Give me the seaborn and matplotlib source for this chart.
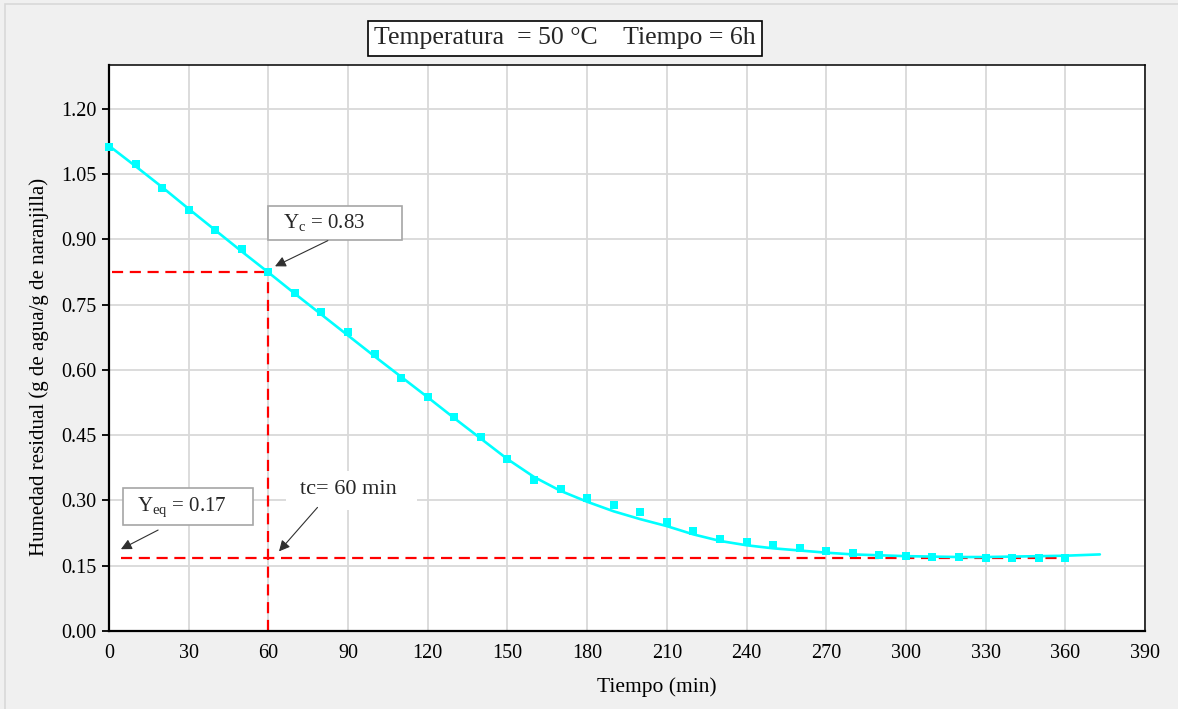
import numpy as np
import pandas as pd
import matplotlib.pyplot as plt
import seaborn as sns
from matplotlib.patches import Rectangle

# datos experimentales (cada 10 min)
tiempo = list(range(0, 361, 10))
humedad = [1.111, 1.074, 1.017, 0.968, 0.922, 0.877, 0.826, 0.776, 0.734, 0.686,
           0.636, 0.581, 0.537, 0.491, 0.445, 0.395, 0.346, 0.326, 0.305, 0.289,
           0.273, 0.250, 0.229, 0.211, 0.204, 0.197, 0.190, 0.184, 0.179, 0.174,
           0.172, 0.170, 0.170, 0.168, 0.168, 0.168, 0.168]

# curva de ajuste
tiempo_ajuste = [0, 10, 20, 30, 40, 50, 60, 70, 80, 90, 100, 110, 120, 130, 140,
                 150, 160, 170, 180, 190, 200, 210, 220, 230, 240, 250, 260, 270,
                 280, 290, 300, 310, 320, 330, 340, 350, 360, 373]
humedad_ajuste = [1.115, 1.068, 1.020, 0.970, 0.921, 0.872, 0.824, 0.775, 0.727,
                  0.679, 0.631, 0.584, 0.537, 0.489, 0.442, 0.395, 0.354, 0.322,
                  0.297, 0.275, 0.257, 0.241, 0.222, 0.207, 0.197, 0.190, 0.185,
                  0.180, 0.176, 0.174, 0.172, 0.171, 0.170, 0.170, 0.171, 0.172,
                  0.173, 0.176]

# puntos criticos
tc = 60
yc = 0.826
yeq = 0.167
yc_texto = "0.83"
yeq_texto = "0.17"
tc_texto = "60 min"

x_ticks = list(range(0, 391, 30))
y_ticks = [0.00, 0.15, 0.30, 0.45, 0.60, 0.75, 0.90, 1.05, 1.20]

sns.set_theme(style="whitegrid")
plt.rcParams['font.family'] = ['Liberation Serif', 'DejaVu Serif']
plt.rcParams['mathtext.fontset'] = 'custom'
plt.rcParams['mathtext.rm'] = 'Liberation Serif'
plt.rcParams['mathtext.it'] = 'Liberation Serif:italic'

df = pd.DataFrame({"tiempo": tiempo, "humedad": humedad})
df_ajuste = pd.DataFrame({"tiempo": tiempo_ajuste, "humedad": humedad_ajuste})

fig = plt.figure(figsize=(11.78, 7.09), dpi=100, facecolor='#f0f0f0')
ax = fig.add_axes([0.0925, 0.110, 0.8795, 0.798])
ax.set_facecolor('white')

fig.add_artist(Rectangle((5 / 1178, -0.05), 1.2, 1.05 - 4 / 709, transform=fig.transFigure,
                         fill=False, edgecolor='#d8d8d8', lw=1.2, zorder=0))

# lineas rojas de referencia
rojo = dict(color='#ff0000', lw=1.6, dashes=(5, 3), zorder=2)
ax.plot([1, tc], [yc, yc], **rojo)
ax.plot([tc, tc], [0, yc], **rojo)
ax.plot([4.5, 360], [yeq, yeq], **rojo)

sns.lineplot(data=df_ajuste, x="tiempo", y="humedad", ax=ax, color='#00ffff',
             lw=1.9, zorder=3, sort=False, clip_on=False)
sns.scatterplot(data=df, x="tiempo", y="humedad", ax=ax, marker='s', s=32,
                color='#00ffff', linewidth=0, zorder=4, clip_on=False)

ax.set_xlim(0, 390)
ax.set_ylim(0, 1.30)
ax.set_xticks(x_ticks)
ax.set_yticks(y_ticks)
ax.set_yticklabels([f"{v:.2f}" for v in y_ticks])
ax.grid(True, color='#d9d9d9', lw=1.3)
ax.set_axisbelow(True)
for s in ax.spines.values():
    s.set_color('black')
    s.set_linewidth(1.1)
ax.spines['left'].set_linewidth(1.6)
ax.spines['bottom'].set_linewidth(1.6)
ax.tick_params(axis='y', direction='out', length=5, width=1.3, color='black',
               labelsize=14.5, pad=4, left=True, colors='black')
ax.tick_params(axis='x', length=0, labelsize=14.5, pad=9, colors='black')

ax.set_xlabel("Tiempo (min)", fontsize=15.5, color='black')
ax.set_ylabel("Humedad residual (g de agua/g de naranjilla)", fontsize=15,
              color='black')
ax.xaxis.set_label_coords(0.529, -0.082)
ax.yaxis.set_label_coords(-0.058, 0.466)

# cajas de anotacion
ax.add_patch(Rectangle((59.9, 0.8995), 50.4, 0.078, facecolor='white',
                       edgecolor='#a6a6a6', lw=1.2, zorder=5))
ax.text(65.5, 0.9385, r"Y$_\mathrm{c}$ = " + yc_texto, fontsize=15, va='center',
        ha='left', zorder=6)
ax.annotate("", xy=(tc + 2.5, yc + 0.012), xytext=(82.4, 0.897),
            arrowprops=dict(arrowstyle='-|>', color='#303030', lw=0.8,
                            mutation_scale=16, shrinkA=0, shrinkB=0), zorder=6)

ax.add_patch(Rectangle((5.3, 0.243), 48.9, 0.085, facecolor='white',
                       edgecolor='#a6a6a6', lw=1.2, zorder=5))
ax.text(10.4, 0.285, r"Y$_\mathrm{eq}$ = " + yeq_texto, fontsize=15, va='center',
        ha='left', zorder=6)
ax.annotate("", xy=(4.5, 0.188), xytext=(18.5, 0.232),
            arrowprops=dict(arrowstyle='-|>', color='#303030', lw=0.8,
                            mutation_scale=16, shrinkA=0, shrinkB=0), zorder=6)

ax.add_patch(Rectangle((66.5, 0.278), 49.5, 0.09, facecolor='white',
                       edgecolor='none', zorder=5))
ax.text(71.9, 0.325, "tc= " + tc_texto, fontsize=16, va='center', ha='left', zorder=6)
ax.annotate("", xy=(tc + 4, 0.183), xytext=(78.5, 0.284),
            arrowprops=dict(arrowstyle='-|>', color='#303030', lw=0.8,
                            mutation_scale=16, shrinkA=0, shrinkB=0), zorder=6)

fig.text(0.4796, 0.946, "Temperatura  = 50 °C    Tiempo = 6h", fontsize=18.5,
         ha='center', va='center',
         bbox=dict(boxstyle='square,pad=0.25', facecolor='white', edgecolor='black', lw=1.2))

fig.savefig("out.png", dpi=100, facecolor=fig.get_facecolor())
